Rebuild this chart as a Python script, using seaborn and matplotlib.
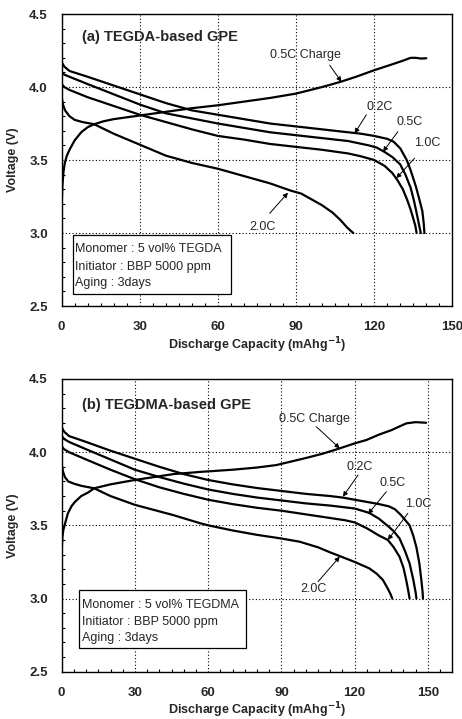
import matplotlib
matplotlib.use("Agg")
import matplotlib.pyplot as plt
from matplotlib.ticker import MultipleLocator
import seaborn as sns
import pandas as pd

sns.set_style("ticks")
plt.rcParams["font.family"] = ["Liberation Sans", "DejaVu Sans"]

# ---------------- Panel (a): TEGDA-based GPE ----------------
a_cap_02 = [0, 1, 3, 10, 20, 30, 40, 50, 60, 70, 80, 90, 100, 110, 115, 120, 125, 127.5, 130, 132.5, 134, 136, 137.5, 138.5, 139, 139.3]
a_v_02 = [4.17, 4.14, 4.11, 4.07, 4.01, 3.95, 3.89, 3.84, 3.81, 3.78, 3.75, 3.73, 3.71, 3.69, 3.68, 3.665, 3.645, 3.625, 3.58, 3.50, 3.43, 3.32, 3.22, 3.15, 3.07, 3.0]

a_cap_05 = [0, 1, 3, 10, 20, 30, 40, 50, 60, 70, 80, 90, 100, 110, 118, 121, 124, 127, 130, 132, 134, 135.3, 136.5, 137.3, 137.9]
a_v_05 = [4.10, 4.085, 4.07, 4.02, 3.95, 3.88, 3.82, 3.785, 3.75, 3.72, 3.69, 3.67, 3.65, 3.63, 3.60, 3.585, 3.555, 3.52, 3.47, 3.40, 3.31, 3.22, 3.12, 3.05, 3.0]

a_cap_10 = [0, 1, 3, 10, 20, 30, 40, 50, 60, 70, 80, 90, 100, 110, 115, 120, 124, 127, 129, 131, 132.7, 134, 135, 135.8, 136.3]
a_v_10 = [4.02, 4.0, 3.98, 3.93, 3.87, 3.81, 3.76, 3.71, 3.665, 3.64, 3.61, 3.59, 3.57, 3.545, 3.525, 3.50, 3.46, 3.41, 3.36, 3.30, 3.226, 3.16, 3.10, 3.05, 3.0]

a_cap_20 = [0, 0.5, 1.3, 3, 5, 8, 12.5, 20, 30, 40, 50, 60, 70, 80, 88, 92, 96, 100, 104, 107, 109.5, 111, 112]
a_v_20 = [3.93, 3.88, 3.84, 3.80, 3.775, 3.76, 3.745, 3.68, 3.605, 3.53, 3.48, 3.44, 3.39, 3.34, 3.29, 3.27, 3.23, 3.19, 3.14, 3.09, 3.04, 3.015, 3.0]

a_cap_chg = [0, 0.3, 0.7, 1.2, 2, 3, 5, 7.5, 10, 12.5, 16, 20, 30, 40, 50, 60, 70, 80, 90, 100, 107, 113, 120, 126, 131, 134, 136, 138, 140]
a_v_chg = [3.20, 3.33, 3.42, 3.48, 3.53, 3.57, 3.635, 3.69, 3.725, 3.745, 3.765, 3.78, 3.805, 3.83, 3.855, 3.875, 3.90, 3.925, 3.955, 4.00, 4.035, 4.07, 4.115, 4.15, 4.18, 4.20, 4.20, 4.195, 4.197]

# ---------------- Panel (b): TEGDMA-based GPE ----------------
b_cap_02 = [0, 1, 3, 10, 20, 30, 40, 50, 60, 70, 80, 90, 100, 110, 115, 120, 125, 130, 134, 136.5, 139, 141, 142.5, 144, 145.3, 146.5, 147.3, 147.8, 148]
b_v_02 = [4.17, 4.14, 4.11, 4.07, 4.01, 3.955, 3.90, 3.85, 3.81, 3.78, 3.755, 3.735, 3.715, 3.70, 3.69, 3.675, 3.66, 3.645, 3.63, 3.61, 3.57, 3.53, 3.50, 3.43, 3.35, 3.24, 3.13, 3.05, 3.0]

b_cap_05 = [0, 1, 3, 10, 20, 30, 40, 50, 60, 70, 80, 90, 100, 110, 120, 126, 130, 134, 136, 138.4, 140.5, 142.5, 144, 145, 145.3]
b_v_05 = [4.11, 4.09, 4.07, 4.02, 3.95, 3.88, 3.83, 3.785, 3.745, 3.715, 3.69, 3.67, 3.65, 3.635, 3.615, 3.585, 3.545, 3.49, 3.46, 3.41, 3.33, 3.24, 3.13, 3.04, 3.0]

b_cap_10 = [0, 1, 3, 10, 20, 30, 40, 50, 60, 70, 80, 90, 100, 110, 116, 120, 125, 130, 133.6, 136, 138.4, 140, 141.2, 142, 142.5]
b_v_10 = [4.04, 4.02, 4.0, 3.95, 3.88, 3.815, 3.76, 3.715, 3.675, 3.645, 3.62, 3.60, 3.575, 3.55, 3.535, 3.52, 3.48, 3.43, 3.40, 3.35, 3.285, 3.21, 3.12, 3.05, 3.0]

b_cap_20 = [0, 0.5, 1.3, 2.7, 5, 8, 13.3, 20, 30, 45.7, 56.6, 60, 70, 80, 90, 97.5, 105, 110, 113.9, 120, 126, 129, 131.6, 133.5, 134.7, 135.4]
b_v_20 = [3.92, 3.87, 3.83, 3.80, 3.785, 3.77, 3.753, 3.70, 3.64, 3.57, 3.515, 3.50, 3.465, 3.435, 3.41, 3.388, 3.35, 3.315, 3.29, 3.25, 3.206, 3.17, 3.126, 3.07, 3.03, 3.0]

b_cap_chg = [0, 0.3, 0.7, 1.35, 2.5, 4, 5.4, 8, 10.9, 13.3, 20, 30, 45.7, 56.6, 70, 80, 88, 100, 107, 113.9, 120, 124.8, 130, 135, 141.2, 145, 149.3]
b_v_chg = [3.33, 3.42, 3.47, 3.51, 3.58, 3.63, 3.66, 3.70, 3.725, 3.753, 3.78, 3.81, 3.85, 3.865, 3.88, 3.895, 3.912, 3.96, 3.99, 4.026, 4.06, 4.083, 4.12, 4.15, 4.197, 4.205, 4.201]

series_names = ["0.2C", "0.5C", "1.0C", "2.0C", "0.5C Charge"]

panels = [
    dict(title="(a) TEGDA-based GPE",
         curves=[(a_cap_02, a_v_02), (a_cap_05, a_v_05), (a_cap_10, a_v_10), (a_cap_20, a_v_20), (a_cap_chg, a_v_chg)],
         xmax=150,
         box_lines=["Monomer : 5 vol% TEGDA", "Initiator : BBP 5000 ppm", "Aging : 3days"],
         box=(4.5, 2.58, 60.7, 0.406), box_text_x=5.1, box_text_y=[2.89, 2.77, 2.66],
         title_xy=(7.7, 4.345),
         labels=[("0.2C", (122.2, 3.865), (117.0, 3.81), (112.5, 3.683)),
                 ("0.5C", (133.6, 3.762), (129.1, 3.694), (123.4, 3.557)),
                 ("1.0C", (140.4, 3.614), (135.5, 3.512), (128.5, 3.375)),
                 ("2.0C", (77.3, 3.043), (79.9, 3.135), (86.9, 3.276)),
                 ("0.5C Charge", (93.7, 4.22), (102.9, 4.15), (107.4, 4.036))]),
    dict(title="(b) TEGDMA-based GPE",
         curves=[(b_cap_02, b_v_02), (b_cap_05, b_v_05), (b_cap_10, b_v_10), (b_cap_20, b_v_20), (b_cap_chg, b_v_chg)],
         xmax=160,
         box_lines=["Monomer : 5 vol% TEGDMA", "Initiator : BBP 5000 ppm", "Aging : 3days"],
         box=(7.1, 2.659, 68.6, 0.399), box_text_x=8.2, box_text_y=[2.956, 2.837, 2.728],
         title_xy=(8.2, 4.322),
         labels=[("0.2C", (122.0, 3.896), (121.4, 3.844), (115.2, 3.696)),
                 ("0.5C", (135.7, 3.79), (133.0, 3.73), (125.5, 3.577)),
                 ("1.0C", (145.9, 3.644), (141.8, 3.582), (133.6, 3.40)),
                 ("2.0C", (103.0, 3.063), (105.0, 3.115), (113.9, 3.286)),
                 ("0.5C Charge", (103.6, 4.224), (104.3, 4.174), (113.9, 4.026))]),
]

x_ticks = [0, 30, 60, 90, 120, 150]
y_ticks = [2.5, 3.0, 3.5, 4.0, 4.5]

fig = plt.figure(figsize=(4.62, 7.19), dpi=100)
ax_a = fig.add_axes([0.1335, 0.5744, 0.8455, 0.4061])
ax_b = fig.add_axes([0.1335, 0.0658, 0.8455, 0.4071])

for ax, p in zip([ax_a, ax_b], panels):
    frames = []
    for name, (cap, v) in zip(series_names, p["curves"]):
        frames.append(pd.DataFrame({"cap": cap, "v": v, "series": name}))
    df = pd.concat(frames, ignore_index=True)
    for name in series_names:
        sub = df[df["series"] == name]
        sns.lineplot(data=sub, x="cap", y="v", sort=False, estimator=None,
                     color="black", lw=1.6, ax=ax, zorder=3)

    ax.set_xlim(0, p["xmax"])
    ax.set_ylim(2.5, 4.5)
    ax.set_xticks(x_ticks)
    ax.set_yticks(y_ticks)
    ax.set_xticklabels([str(t) for t in x_ticks], fontweight="bold", fontsize=9.5)
    ax.set_yticklabels([f"{t:.1f}" for t in y_ticks], fontweight="bold", fontsize=9.5)
    ax.xaxis.set_minor_locator(MultipleLocator(5))
    ax.yaxis.set_minor_locator(MultipleLocator(0.1))
    ax.tick_params(which="major", length=0, pad=11, axis="x")
    ax.tick_params(which="major", length=0, pad=10, axis="y")
    ax.tick_params(which="minor", direction="in", length=2.5, width=0.8, color="black")
    ax.grid(True, which="major", color="black", linestyle=(0, (1, 2)), linewidth=0.8)
    ax.set_axisbelow(True)
    for s in ax.spines.values():
        s.set_color("black")
        s.set_linewidth(1.0)

    ax.set_xlabel("Discharge Capacity (mAhg$^{\\mathbf{-1}}$)", fontweight="bold", fontsize=9)
    ax.set_ylabel("Voltage (V)", fontweight="bold", fontsize=9)
    ax.xaxis.set_label_coords(0.5, -0.133)
    ax.xaxis.label.set_va("center")
    ax.yaxis.set_label_coords(-0.125, 0.5)
    ax.yaxis.label.set_va("center")

    ax.text(p["title_xy"][0], p["title_xy"][1], p["title"], fontsize=10.5,
            fontweight="bold", ha="left", va="center", zorder=5)

    for txt, tpos, tail, tip in p["labels"]:
        ax.text(tpos[0], tpos[1], txt, fontsize=9, ha="center", va="center", zorder=5)
        ax.annotate("", xy=tip, xytext=tail,
                    arrowprops=dict(arrowstyle="-|>", color="black", lw=0.7,
                                    mutation_scale=7, shrinkA=0, shrinkB=0),
                    zorder=5)

    bx, by, bw, bh = p["box"]
    ax.add_patch(plt.Rectangle((bx, by), bw, bh, facecolor="white",
                               edgecolor="black", lw=0.9, zorder=4))
    for line, yy in zip(p["box_lines"], p["box_text_y"]):
        ax.text(p["box_text_x"], yy, line, fontsize=9, ha="left", va="center", zorder=5)

fig.savefig("out.png", dpi=100)
